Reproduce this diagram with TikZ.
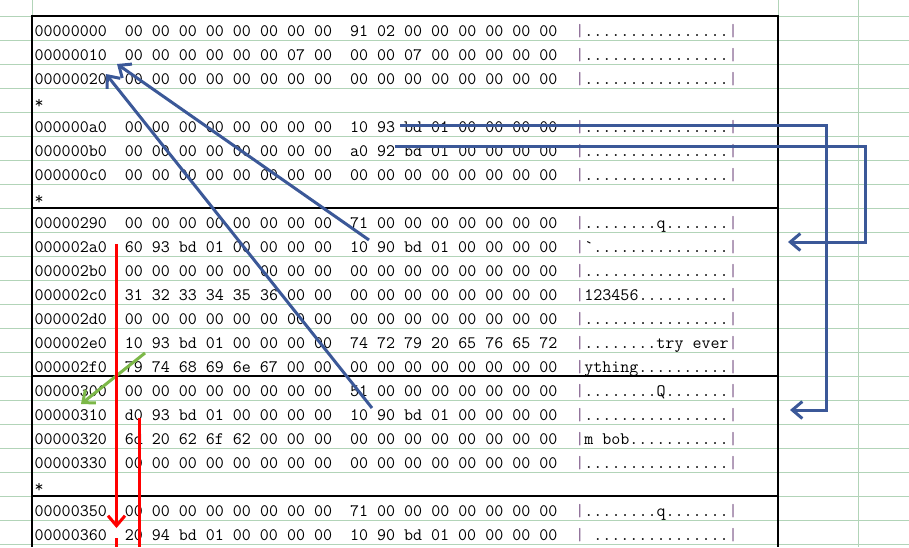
\documentclass[tikz,border=0pt]{standalone}
\usepackage{tikz}
\usetikzlibrary{arrows.meta}
\definecolor{gridgreen}{RGB}{178,212,184}
\definecolor{linkblue}{RGB}{59,88,152}
\definecolor{hopgreen}{RGB}{124,184,72}
\definecolor{barpurple}{RGB}{122,84,134}
\newcommand{\asc}[1]{\textcolor{barpurple}{|}#1\textcolor{barpurple}{|}}

\begin{document}
\begin{tikzpicture}[x=1pt, y=-1pt,
    gridline/.style={gridgreen, line width=1pt},
    boxline/.style={black, line width=2.2pt},
    hexrow/.style={anchor=base west, inner sep=0pt, font=\ttfamily\fontsize{17.5}{20}\selectfont},
    link/.style={linkblue, line width=3pt, -{Straight Barb[length=10pt,width=17pt]}},
    hop/.style={hopgreen, line width=3pt, -{Straight Barb[length=10pt,width=17pt]}},
    trace/.style={red, line width=3pt}]
  \useasboundingbox[fill=white] (0,0) rectangle (909,547);

  % Sheet grid and dump frame
  \foreach \gy in {16,40,...,544} \draw[gridline] (0,\gy) -- (909,\gy);
  \foreach \gx in {32,778,858} \draw[gridline] (\gx,0) -- (\gx,547);
  \draw[boxline] (32,547) -- (32,16) -- (778,16) -- (778,547);
  \draw[boxline] (32,208) -- (778,208);
  \draw[boxline] (32,376) -- (778,376);
  \draw[boxline] (32,496) -- (778,496);

  % Define nodes
  \node[hexrow] (r0)  at (34.5,36)  {00000000~~00 00 00 00 00 00 00 00~~91 02 00 00 00 00 00 00~~\asc{................}};
  \node[hexrow] (r1)  at (34.5,60)  {00000010~~00 00 00 00 00 00 07 00~~00 00 07 00 00 00 00 00~~\asc{................}};
  \node[hexrow] (r2)  at (34.5,84)  {00000020~~00 00 00 00 00 00 00 00~~00 00 00 00 00 00 00 00~~\asc{................}};
  \node[hexrow] (r3)  at (34.5,108) {*};
  \node[hexrow] (r4)  at (34.5,132) {000000a0~~00 00 00 00 00 00 00 00~~10 93 bd 01 00 00 00 00~~\asc{................}};
  \node[hexrow] (r5)  at (34.5,156) {000000b0~~00 00 00 00 00 00 00 00~~a0 92 bd 01 00 00 00 00~~\asc{................}};
  \node[hexrow] (r6)  at (34.5,180) {000000c0~~00 00 00 00 00 00 00 00~~00 00 00 00 00 00 00 00~~\asc{................}};
  \node[hexrow] (r7)  at (34.5,204) {*};
  \node[hexrow] (r8)  at (34.5,228) {00000290~~00 00 00 00 00 00 00 00~~71 00 00 00 00 00 00 00~~\asc{........q.......}};
  \node[hexrow] (r9)  at (34.5,252) {000002a0~~60 93 bd 01 00 00 00 00~~10 90 bd 01 00 00 00 00~~\asc{\textasciigrave...............}};
  \node[hexrow] (r10) at (34.5,276) {000002b0~~00 00 00 00 00 00 00 00~~00 00 00 00 00 00 00 00~~\asc{................}};
  \node[hexrow] (r11) at (34.5,300) {000002c0~~31 32 33 34 35 36 00 00~~00 00 00 00 00 00 00 00~~\asc{123456..........}};
  \node[hexrow] (r12) at (34.5,324) {000002d0~~00 00 00 00 00 00 00 00~~00 00 00 00 00 00 00 00~~\asc{................}};
  \node[hexrow] (r13) at (34.5,348) {000002e0~~10 93 bd 01 00 00 00 00~~74 72 79 20 65 76 65 72~~\asc{........try ever}};
  \node[hexrow] (r14) at (34.5,372) {000002f0~~79 74 68 69 6e 67 00 00~~00 00 00 00 00 00 00 00~~\asc{ything..........}};
  \node[hexrow] (r15) at (34.5,396) {00000300~~00 00 00 00 00 00 00 00~~51 00 00 00 00 00 00 00~~\asc{........Q.......}};
  \node[hexrow] (r16) at (34.5,420) {00000310~~d0 93 bd 01 00 00 00 00~~10 90 bd 01 00 00 00 00~~\asc{................}};
  \node[hexrow] (r17) at (34.5,444) {00000320~~6d 20 62 6f 62 00 00 00~~00 00 00 00 00 00 00 00~~\asc{m bob...........}};
  \node[hexrow] (r18) at (34.5,468) {00000330~~00 00 00 00 00 00 00 00~~00 00 00 00 00 00 00 00~~\asc{................}};
  \node[hexrow] (r19) at (34.5,492) {*};
  \node[hexrow] (r20) at (34.5,516) {00000350~~00 00 00 00 00 00 00 00~~71 00 00 00 00 00 00 00~~\asc{........q.......}};
  \node[hexrow] (r21) at (34.5,540) {00000360~~20 94 bd 01 00 00 00 00~~10 90 bd 01 00 00 00 00~~\asc{~...............}};

  % Arrow ends
  \coordinate (ptr2a0)  at (369,240);
  \coordinate (ptr310)  at (372,408);
  \coordinate (to10)    at (117,64);
  \coordinate (to20)    at (106,74);
  \coordinate (fda0)    at (400,125);
  \coordinate (bend310) at (826,410);
  \coordinate (t310)    at (790,410);
  \coordinate (fdb0)    at (395,146);
  \coordinate (bend2a0) at (865,242);
  \coordinate (t2a0)    at (788,242);
  \coordinate (nx2e0)   at (145,353);
  \coordinate (to310)   at (81,404);
  \coordinate (fd2a0)   at (116.5,244);
  \coordinate (to360)   at (116.5,528);
  \coordinate (tail360) at (116.5,538);
  \coordinate (end360)  at (116.5,547);
  \coordinate (fd310)   at (139,418);
  \coordinate (end310)  at (139,547);

  % Connect the nodes
  \draw[link] (ptr2a0) -- (to10);
  \draw[link] (ptr310) -- (to20);
  \draw[link] (fda0) -| (bend310) -- (t310);
  \draw[link] (fdb0) -| (bend2a0) -- (t2a0);
  \draw[hop] (nx2e0) -- (to310);
  \draw[trace, -{Straight Barb[length=10pt,width=17pt]}] (fd2a0) -- (to360);
  \draw[trace] (tail360) -- (end360);
  \draw[trace] (fd310) -- (end310);
\end{tikzpicture}
\end{document}
